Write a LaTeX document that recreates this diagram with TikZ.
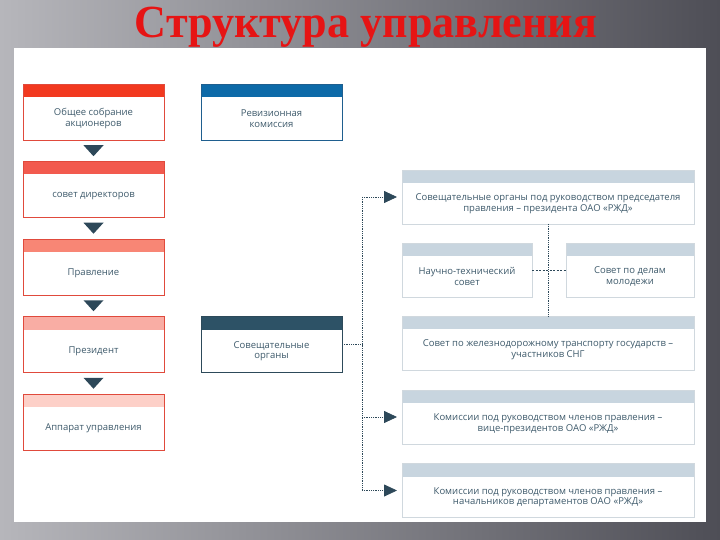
\documentclass[tikz,border=0pt]{standalone}
\usepackage{fontspec}
\setmainfont{Liberation Serif}
\newfontfamily\boxfont{Open Sans}
\usetikzlibrary{positioning,arrows.meta,calc}

\definecolor{bgL}{RGB}{182,182,187}
\definecolor{bgR}{RGB}{78,78,86}
\definecolor{titleC}{RGB}{230,20,20}
\definecolor{barA}{RGB}{242,57,31}
\definecolor{barB}{RGB}{242,90,78}
\definecolor{barC}{RGB}{248,134,117}
\definecolor{barD}{RGB}{249,173,164}
\definecolor{barE}{RGB}{253,208,200}
\definecolor{lineL}{RGB}{224,74,60}
\definecolor{barBlue}{RGB}{13,106,168}
\definecolor{lineBlue}{RGB}{31,95,143}
\definecolor{barDark}{RGB}{45,82,102}
\definecolor{lineDark}{RGB}{45,74,90}
\definecolor{barR}{RGB}{200,213,223}
\definecolor{lineR}{RGB}{208,216,222}
\definecolor{triC}{RGB}{45,72,89}
\definecolor{txtC}{RGB}{62,90,107}

\begin{document}
\begin{tikzpicture}[x=1pt, y=-1pt,
  node distance=21.5pt and 37pt,
  blk/.style={draw=#1, line width=0.6pt, fill=white, inner sep=0pt, outer sep=0pt,
    minimum width=141pt, minimum height=56pt},
  bar/.style={path picture={\fill[#1] (path picture bounding box.north west)
    rectangle ([yshift=-13pt]path picture bounding box.north east);}},
  lblk/.style={blk=lineL, bar=#1},
  rblk/.style={blk=lineR, bar=barR, minimum height=54pt, minimum width=292pt},
  txt/.style={font=\boxfont\fontsize{9.5}{10.5}\selectfont, text=txtC, align=center, yshift=-6.5pt},
  tri/.style={fill=triC},
  dot/.style={densely dotted, line width=0.8pt, draw=triC},
  arr/.style={dot, -{Triangle[length=13pt, width=12pt]}, shorten >=5pt}]
  \useasboundingbox (0,0) rectangle (720,540);
  % background and panel
  \shade[left color=bgL, right color=bgR] (0,0) rectangle (720,540);
  \fill[white] (14,48) rectangle (706,522);
  \node[font=\bfseries\fontsize{46}{46}\selectfont, text=titleC, xscale=0.96, inner sep=0pt] (title) at (366,27) {Структура управления};

  % left column
  \node[lblk=barA, label={[txt]center:Общее собрание\\акционеров}] (gm) at (93.5,112) {};
  \node[lblk=barB, below=of gm, label={[txt]center:совет директоров}] (bd) {};
  \node[lblk=barC, below=of bd, label={[txt]center:Правление}] (brd) {};
  \node[lblk=barD, below=of brd, label={[txt]center:Президент}] (pr) {};
  \node[lblk=barE, below=of pr, label={[txt]center:Аппарат управления}] (app) {};
  \foreach \a/\b in {gm/bd, bd/brd, brd/pr, pr/app}
    \fill[tri] ($(\a.south)!0.5!(\b.north)$) ++(-10,-5.5) -- ++(20,0) -- ++(-10,11) -- cycle;

  \node[blk=lineBlue, bar=barBlue, right=of gm, label={[txt]center:Ревизионная\\комиссия}] (rev) {};
  \node[blk=lineDark, bar=barDark, right=of pr, label={[txt]center:Совещательные\\органы}] (adv) {};

  % right column
  \node[rblk, label={[txt]center:Совещательные органы под руководством председателя\\правления – президента ОАО «РЖД»}] (r1) at (548,197) {};
  \node[rblk, minimum width=130pt, label={[txt]center:Научно-технический\\совет}] (r2a) at (467,270) {};
  \node[rblk, minimum width=128pt, label={[txt]center:Совет по делам\\молодежи}] (r2b) at (630,270) {};
  \node[rblk, label={[txt]center:Совет по железнодорожному транспорту государств –\\участников СНГ}] (r3) at (548,343) {};
  \node[rblk, label={[txt]center:Комиссии под руководством членов правления –\\вице-президентов ОАО «РЖД»}] (r4) at (548,417) {};
  \node[rblk, label={[txt]center:Комиссии под руководством членов правления –\\начальников департаментов ОАО «РЖД»}] (r5) at (548,490.5) {};

  % connectors
  \coordinate (bus) at (362,0);
  \draw[dot] (adv.east) -- (adv.east -| bus);
  \draw[dot] (r1.west -| bus) -- (r5.west -| bus);
  \foreach \r in {r1,r4,r5}
    \draw[arr] (\r.west -| bus) -- (\r.west);
  \draw[dot] (r1.south) -- (r3.north);
  \draw[dot, dash pattern=on 2pt off 1.5pt] (r2a.east) -- (r2b.west);
\end{tikzpicture}
\end{document}
